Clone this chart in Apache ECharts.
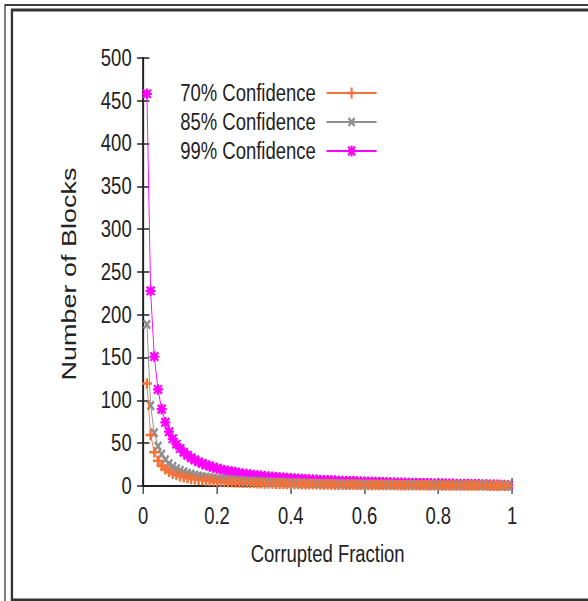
<!DOCTYPE html>
<html>
<head>
<meta charset="utf-8">
<script src="https://cdn.jsdelivr.net/npm/echarts@6/dist/echarts.min.js"></script>
<style>
  html, body { margin: 0; padding: 0; background: #fff; overflow: hidden; }
  #wrap { width: 588px; height: 601px; overflow: hidden; }
  /* the reference figure is squeezed sideways, so draw wider and squeeze */
  #main { width: 764px; height: 601px; transform: scaleX(0.77); transform-origin: 0 0; }
</style>
</head>
<body>
<div id="wrap"><div id="main"></div></div>
<script>
// corrupted fraction (x)
var fraction = [
  0.01,0.02,0.03,0.04,0.05,0.06,0.07,0.08,0.09,0.10,
  0.11,0.12,0.13,0.14,0.15,0.16,0.17,0.18,0.19,0.20,
  0.21,0.22,0.23,0.24,0.25,0.26,0.27,0.28,0.29,0.30,
  0.31,0.32,0.33,0.34,0.35,0.36,0.37,0.38,0.39,0.40,
  0.41,0.42,0.43,0.44,0.45,0.46,0.47,0.48,0.49,0.50,
  0.51,0.52,0.53,0.54,0.55,0.56,0.57,0.58,0.59,0.60,
  0.61,0.62,0.63,0.64,0.65,0.66,0.67,0.68,0.69,0.70,
  0.71,0.72,0.73,0.74,0.75,0.76,0.77,0.78,0.79,0.80,
  0.81,0.82,0.83,0.84,0.85,0.86,0.87,0.88,0.89,0.90,
  0.91,0.92,0.93,0.94,0.95,0.96,0.97,0.98,0.99
];
// number of blocks
var conf70 = [
  119.8,59.6,39.5,29.5,23.5,19.5,16.6,14.4,12.8,11.4,
  10.3,9.4,8.6,8.0,7.4,6.9,6.5,6.1,5.7,5.4,
  5.1,4.8,4.6,4.4,4.2,4.0,3.8,3.7,3.5,3.4,
  3.2,3.1,3.0,2.9,2.8,2.7,2.6,2.5,2.4,2.4,
  2.3,2.2,2.1,2.1,2.0,2.0,1.9,1.8,1.8,1.7,
  1.7,1.6,1.6,1.6,1.5,1.5,1.4,1.4,1.4,1.3,
  1.3,1.2,1.2,1.2,1.1,1.1,1.1,1.1,1.0,1.0,
  1.0,0.9,0.9,0.9,0.9,0.8,0.8,0.8,0.8,0.7,
  0.7,0.7,0.7,0.7,0.6,0.6,0.6,0.6,0.5,0.5,
  0.5,0.5,0.5,0.4,0.4,0.4,0.3,0.3,0.3
];
var conf85 = [
  188.8,93.9,62.3,46.5,37.0,30.7,26.1,22.8,20.1,18.0,
  16.3,14.8,13.6,12.6,11.7,10.9,10.2,9.6,9.0,8.5,
  8.0,7.6,7.3,6.9,6.6,6.3,6.0,5.8,5.5,5.3,
  5.1,4.9,4.7,4.6,4.4,4.3,4.1,4.0,3.8,3.7,
  3.6,3.5,3.4,3.3,3.2,3.1,3.0,2.9,2.8,2.7,
  2.7,2.6,2.5,2.4,2.4,2.3,2.2,2.2,2.1,2.1,
  2.0,2.0,1.9,1.9,1.8,1.8,1.7,1.7,1.6,1.6,
  1.5,1.5,1.4,1.4,1.4,1.3,1.3,1.3,1.2,1.2,
  1.1,1.1,1.1,1.0,1.0,1.0,0.9,0.9,0.9,0.8,
  0.8,0.8,0.7,0.7,0.6,0.6,0.5,0.5,0.4
];
var conf99 = [
  458.2,228.0,151.2,112.8,89.8,74.4,63.5,55.2,48.8,43.7,
  39.5,36.0,33.1,30.5,28.3,26.4,24.7,23.2,21.9,20.6,
  19.5,18.5,17.6,16.8,16.0,15.3,14.6,14.0,13.4,12.9,
  12.4,11.9,11.5,11.1,10.7,10.3,10.0,9.6,9.3,9.0,
  8.7,8.5,8.2,7.9,7.7,7.5,7.3,7.0,6.8,6.6,
  6.5,6.3,6.1,5.9,5.8,5.6,5.5,5.3,5.2,5.0,
  4.9,4.8,4.6,4.5,4.4,4.3,4.2,4.0,3.9,3.8,
  3.7,3.6,3.5,3.4,3.3,3.2,3.1,3.0,3.0,2.9,
  2.8,2.7,2.6,2.5,2.4,2.3,2.3,2.2,2.1,2.0,
  1.9,1.8,1.7,1.6,1.5,1.4,1.3,1.2,1.0
];
var seriesNames = ['70% Confidence', '85% Confidence', '99% Confidence'];

function pairs(ys) {
  return fraction.map(function (x, i) { return [x, ys[i]]; });
}

var font = "'Liberation Sans', Arial, sans-serif";
var plusPath = 'path://M3.8,0H6.2V3.8H10V6.2H6.2V10H3.8V6.2H0V3.8H3.8Z';
var starPath = 'path://M3.9,0H6.1V3.9H10V6.1H6.1V10H3.9V6.1H0V3.9H3.9Z' +
  'M1.78,0.22L9.78,8.22L8.22,9.78L0.22,1.78Z' +
  'M8.22,0.22L9.78,1.78L1.78,9.78L0.22,8.22Z';

var myChart = echarts.init(document.getElementById('main'), null, {renderer: 'svg'});

var tickStyle = {show: true, inside: true, length: 8, lineStyle: {color: '#222', width: 1.5}};
var lineStyle = {show: true, lineStyle: {color: '#222', width: 2.2}};

var option = {
  animation: false,
  backgroundColor: '#fff',
  grid: {left: 186, right: 99, top: 58, bottom: 115},
  legend: {
    orient: 'vertical',
    left: 229,
    top: 76,
    align: 'right',
    itemWidth: 65,
    itemHeight: 14,
    itemGap: 5,
    textStyle: {fontFamily: font, fontSize: 24, lineHeight: 24, color: '#222', padding: [0, 9, 0, 0]},
    data: seriesNames
  },
  xAxis: [
    {
      type: 'value', min: 0, max: 1, interval: 0.2,
      name: 'Corrupted Fraction', nameLocation: 'middle', nameGap: 56,
      nameTextStyle: {fontFamily: font, fontSize: 24, color: '#222'},
      axisLine: lineStyle, axisTick: tickStyle,
      axisLabel: {fontFamily: font, fontSize: 24, color: '#222', margin: 18},
      splitLine: {show: false}
    },
    {
      type: 'value', min: 0, max: 1, interval: 0.2, position: 'top',
      axisLine: lineStyle, axisTick: tickStyle,
      axisLabel: {show: false}, splitLine: {show: false}
    }
  ],
  yAxis: [
    {
      type: 'value', min: 0, max: 500, interval: 50,
      axisLine: lineStyle, axisTick: tickStyle,
      axisLabel: {fontFamily: font, fontSize: 24, color: '#222', margin: 15},
      splitLine: {show: false}
    },
    {
      type: 'value', min: 0, max: 500, interval: 50, position: 'right',
      axisLine: lineStyle, axisTick: tickStyle,
      axisLabel: {show: false}, splitLine: {show: false}
    }
  ],
  graphic: [
    // double frame round the figure
    {type: 'rect', shape: {x: 6.5, y: 5, width: 800, height: 620},
      style: {fill: 'none', stroke: '#000', lineWidth: 1.3}},
    {type: 'rect', shape: {x: 15.5, y: 10, width: 800, height: 590},
      style: {fill: 'none', stroke: '#333', lineWidth: 3}},
    {type: 'text', x: 89, y: 274, rotation: Math.PI / 2,
      style: {text: 'Number of Blocks', font: '27px "Liberation Sans", Arial, sans-serif',
        fill: '#222', textAlign: 'center', textVerticalAlign: 'middle'}}
  ],
  series: [
    {
      name: seriesNames[0], type: 'line', data: pairs(conf70),
      symbol: plusPath, symbolSize: [13, 10.5], color: '#f4723a',
      lineStyle: {width: 1.2}, z: 3
    },
    {
      name: seriesNames[1], type: 'line', data: pairs(conf85),
      symbol: plusPath, symbolRotate: 45, symbolSize: 12, color: '#8f8f8f',
      lineStyle: {width: 1.2}, z: 2
    },
    {
      name: seriesNames[2], type: 'line', data: pairs(conf99),
      symbol: starPath, symbolSize: [13, 10.5], color: '#ff00ff',
      lineStyle: {width: 1.2}, z: 1
    }
  ]
};

myChart.setOption(option);
</script>
</body>
</html>
